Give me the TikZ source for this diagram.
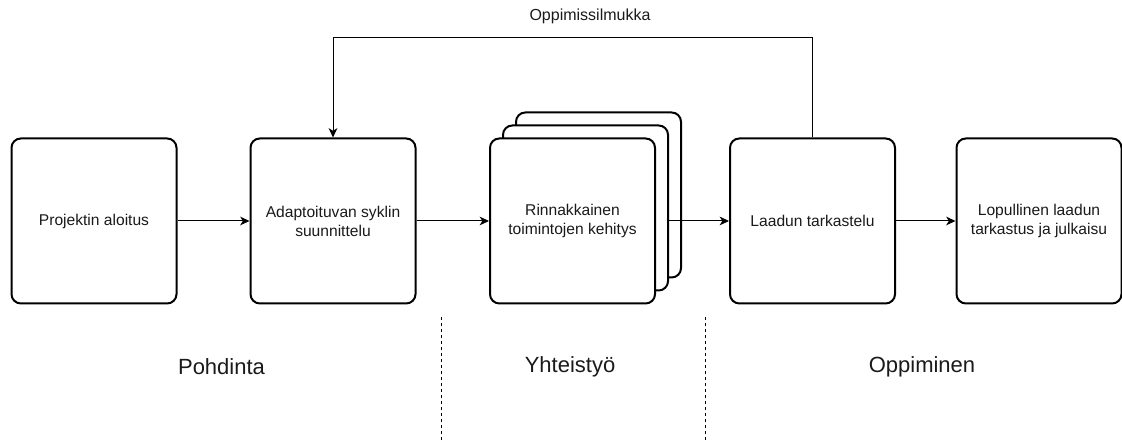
\documentclass[tikz,border=0pt]{standalone}
\usepackage{fontspec}
\setmainfont{Liberation Sans}
\usetikzlibrary{arrows.meta,positioning}
\definecolor{inkgray}{HTML}{1A1A1A}

\begin{document}
\begin{tikzpicture}[x=0.75pt,y=0.75pt,>={Stealth[length=7pt,width=6.5pt,inset=2pt]},
  stage/.style={draw,line width=1.5pt,rounded corners=7pt,fill=white,
    minimum width=123.75pt,minimum height=123.75pt,align=center,inner sep=2pt,
    text=inkgray,font=\fontsize{11.7}{14.2}\selectfont},
  flow/.style={->,line width=0.75pt},
  phase/.style={text=inkgray,font=\fontsize{16.5}{20}\selectfont},
  divider/.style={line width=0.75pt,dash pattern=on 2.25pt off 2.25pt}]
  \useasboundingbox (0,0) rectangle (1122,441);
  % stages
  \node[stage] (start) at (94,220) {Projektin aloitus};
  \node[stage] (plan) at (333,220) {Adaptoituvan syklin\\suunnittelu};
  \node[stage] (devC) at (598.5,246) {};
  \node[stage] (devB) at (585.5,233) {};
  \node[stage] (dev) at (572.5,220) {Rinnakkainen\\toimintojen kehitys};
  \node[stage] (review) at (812.5,220) {Laadun tarkastelu};
  \node[stage] (final) at (1039,220) {Lopullinen laadun\\tarkastus ja julkaisu};
  % connectors
  \draw[flow] (start) -- (plan);
  \draw[flow] (plan) -- (dev);
  \draw[flow] (devB.east |- dev.east) -- (review);
  \draw[flow] (review) -- (final);
  % learning loop
  \coordinate (loopTop) at (812.5,403);
  \draw[flow] (review.north) -- (loopTop) -| (plan.north);
  \node[text=inkgray,font=\fontsize{12}{14}\selectfont] (loopLabel) at (590,425) {Oppimissilmukka};
  % phases
  \coordinate (cutA) at (441,124);
  \coordinate (cutB) at (705,124);
  \draw[divider] (cutA) -- (cutA |- 0,0);
  \draw[divider] (cutB) -- (cutB |- 0,0);
  \node[phase] (reflect) at (221.5,74) {Pohdinta};
  \node[phase] (collab) at (570,74) {Yhteistyö};
  \node[phase] (learn) at (922,74) {Oppiminen};
\end{tikzpicture}
\end{document}
